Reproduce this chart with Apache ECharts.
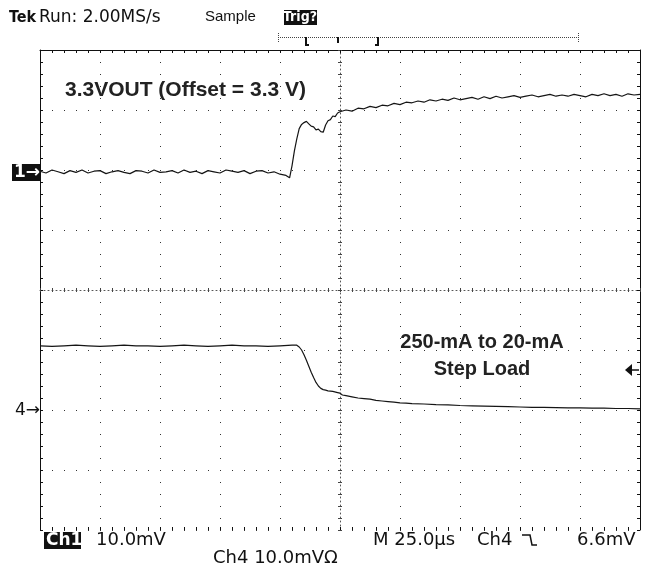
<!DOCTYPE html>
<html>
<head>
<meta charset="utf-8">
<script src="https://cdn.jsdelivr.net/npm/echarts@6.0.0/dist/echarts.min.js"></script>
<style>
  html, body { margin: 0; padding: 0; background: #fff; }
  #chart { width: 647px; height: 573px; }
</style>
</head>
<body>
<div id="chart"></div>
<script>
// Scope capture: 3.3VOUT (Ch1) and load-step sense (Ch4), 25 us/div, 10 mV/div.
// x in microseconds around the trigger, y in screen divisions (-4..4).

// channel ground markers, in divisions from screen centre
const ch1Pos = 1.97
const ch4Pos = -2

// Ch1: mV above its marker
const ch1Time = [
  -125, -122.5, -120, -117.5, -115, -112.5, -110, -107.5, -105, -102.5,
  -100, -97.5, -95, -92.5, -90, -87.5, -85, -82.5, -80, -77.5,
  -75, -72.5, -70, -67.5, -65, -62.5, -60, -57.5, -55, -52.5,
  -50, -47.5, -45, -42.5, -40, -37.5, -35, -32.5, -30, -27.5,
  -25, -22.5, -21, -20, -19, -18, -17, -16, -15, -14,
  -13, -12, -11, -10, -9, -8, -7, -6, -5, -4,
  -3, -2, -1, 0, 2.5, 5, 7.5, 10, 12.5, 15,
  17.5, 20, 22.5, 25, 27.5, 30, 32.5, 35, 37.5, 40,
  42.5, 45, 47.5, 50, 52.5, 55, 57.5, 60, 62.5, 65,
  67.5, 70, 72.5, 75, 77.5, 80, 82.5, 85, 87.5, 90,
  92.5, 95, 97.5, 100, 102.5, 105, 107.5, 110, 112.5, 115,
  117.5, 120, 122.5, 125
]
const ch1Mv = [
  0.1, -0.2, 0.3, 0, -0.3, 0.2, -0.1, 0.3, -0.2, 0.1,
  0.2, -0.3, 0, 0.2, -0.1, -0.3, 0.2, 0.1, -0.2, 0.3,
  -0.1, 0, 0.2, -0.2, 0.3, -0.1, 0.1, -0.3, 0.2, 0,
  -0.2, 0.3, 0.1, -0.1, 0.2, -0.3, 0.1, 0.2, -0.2, 0,
  -0.4, -0.6, -1.0, 1.0, 3.5, 5.5, 7.2, 7.9, 8.2, 8.4,
  8.0, 7.6, 7.5, 7.0, 7.1, 6.7, 6.6, 7.8, 8.5, 8.7,
  9.3, 9.2, 9.8, 10.0, 10.3, 10.1, 10.6, 10.5, 10.9, 10.7,
  11.1, 11.0, 11.4, 11.2, 11.6, 11.5, 11.8, 11.6, 12.0, 11.8,
  12.1, 11.9, 12.3, 12.0, 12.2, 12.4, 12.1, 12.5, 12.2, 12.6,
  12.3, 12.5, 12.7, 12.4, 12.6, 12.8, 12.5, 12.7, 12.9, 12.6,
  12.8, 12.6, 12.9, 12.7, 12.5, 12.9, 12.7, 13.0, 12.7, 12.9,
  12.6, 13.0, 12.8, 12.9
]

// Ch4: mV above its marker
const ch4Time = [
  -125, -120, -115, -110, -105, -100, -95, -90, -85, -80,
  -75, -70, -65, -60, -55, -50, -45, -40, -35, -30,
  -25, -20, -18, -17, -16, -15, -14, -13, -12, -11,
  -10, -9, -8, -7, -6, -5, -3, -1, 0, 1,
  2.5, 5, 7.5, 10, 12.5, 15, 17.5, 20, 22.5, 25,
  27.5, 30, 35, 40, 45, 50, 55, 60, 65, 70,
  75, 80, 85, 90, 95, 100, 105, 110, 115, 120,
  125
]
const ch4Mv = [
  10.7, 10.6, 10.7, 10.8, 10.7, 10.6, 10.7, 10.8, 10.7, 10.7,
  10.6, 10.7, 10.8, 10.7, 10.6, 10.7, 10.8, 10.7, 10.7, 10.6,
  10.7, 10.8, 10.8, 10.5, 10.0, 9.2, 8.3, 7.3, 6.3, 5.4,
  4.6, 4.0, 3.6, 3.4, 3.3, 3.2, 3.1, 2.9, 2.8, 2.5,
  2.4, 2.2, 2.0, 1.9, 1.8, 1.6, 1.5, 1.4, 1.3, 1.2,
  1.15, 1.05, 1.0, 0.9, 0.85, 0.75, 0.7, 0.65, 0.6, 0.55,
  0.5, 0.45, 0.45, 0.4, 0.35, 0.35, 0.3, 0.3, 0.25, 0.25,
  0.2
]

const ink = '#111'
const scopeFont = "'DejaVu Sans', sans-serif"
const narrowFont = "'Liberation Sans Narrow', 'DejaVu Sans Condensed', sans-serif"
const arial = "'Liberation Sans', Arial, sans-serif"

const ticks = (inside, len, color = ink) => ({
  axisTick: { show: true, inside, length: len, lineStyle: { color, width: 1 } },
  minorTick: { show: true, splitNumber: 5, length: len, lineStyle: { color, width: 1 } },
  axisLabel: { show: false },
})
const frameLine = { show: true, onZero: false, lineStyle: { color: ink, width: 1 } }
const centreLine = { show: true, onZero: true, lineStyle: { color: '#555', width: 1, type: [1, 3] } }
const grid = { show: false, lineStyle: { color: '#333', width: 1, type: [1, 11] } }

const xBase = { type: 'value', min: -125, max: 125, interval: 25 }
const yBase = { type: 'value', min: -4, max: 4, interval: 1 }

const text = (x, y, str, font, extra = {}) => ({
  type: 'text', x, y,
  style: { text: str, font, fill: ink, verticalAlign: 'middle', ...extra },
})

const chart = echarts.init(document.getElementById('chart'), null, { renderer: 'canvas' })
chart.setOption({
  animation: false,
  backgroundColor: '#fff',
  grid: { left: 40, right: 7, top: 50, bottom: 43 },
  xAxis: [
    { ...xBase, position: 'bottom', axisLine: { ...frameLine, show: false }, ...ticks(true, 3), splitLine: { ...grid, show: true } },
    { ...xBase, position: 'top', axisLine: frameLine, ...ticks(true, 3), splitLine: grid },
    { ...xBase, position: 'bottom', axisLine: centreLine, ...ticks(true, 2, '#444'), splitLine: grid },
    { ...xBase, position: 'bottom', axisLine: { show: false, onZero: true }, ...ticks(false, 2, '#444'), splitLine: grid },
  ],
  yAxis: [
    { ...yBase, position: 'left', axisLine: frameLine, ...ticks(true, 3), splitLine: { ...grid, show: true } },
    { ...yBase, position: 'right', axisLine: frameLine, ...ticks(true, 3), splitLine: grid },
    { ...yBase, position: 'left', axisLine: centreLine, ...ticks(true, 2, '#444'), splitLine: grid },
    { ...yBase, position: 'left', axisLine: { show: false, onZero: true }, ...ticks(false, 2, '#444'), splitLine: grid },
  ],
  series: [
    {
      type: 'line', xAxisIndex: 0, yAxisIndex: 0, showSymbol: false,
      lineStyle: { color: '#151515', width: 1.2 },
      data: ch1Time.map((t, i) => [t, ch1Pos + ch1Mv[i] / 10]),
    },
    {
      type: 'line', xAxisIndex: 0, yAxisIndex: 0, showSymbol: false,
      lineStyle: { color: '#151515', width: 1.2 },
      data: ch4Time.map((t, i) => [t, ch4Pos + ch4Mv[i] / 10]),
    },
  ],
  graphic: [
    // header
    text(9, 18, 'Tek', `bold 16px ${narrowFont}`),
    text(39, 18, 'Run: 2.00MS/s', `17px ${scopeFont}`),
    text(205, 17, 'Sample', `15px ${arial}`),
    { type: 'rect', shape: { x: 284, y: 10, width: 33, height: 15 }, style: { fill: '#111' } },
    text(300, 17.5, 'Trig?', `bold 14px ${narrowFont}`, { fill: '#fff', align: 'center' }),
    // record window bar
    { type: 'line', shape: { x1: 278, y1: 37.5, x2: 578, y2: 37.5 }, style: { stroke: '#444', lineWidth: 1, lineDash: [1, 1] } },
    { type: 'line', shape: { x1: 278.5, y1: 33, x2: 278.5, y2: 42 }, style: { stroke: '#444', lineWidth: 1, lineDash: [1, 1] } },
    { type: 'line', shape: { x1: 578.5, y1: 33, x2: 578.5, y2: 42 }, style: { stroke: '#444', lineWidth: 1, lineDash: [1, 1] } },
    { type: 'polyline', shape: { points: [[306, 37], [306, 45], [309, 45]] }, style: { stroke: ink, lineWidth: 2, fill: null } },
    { type: 'line', shape: { x1: 338, y1: 37, x2: 338, y2: 43 }, style: { stroke: ink, lineWidth: 2 } },
    { type: 'polyline', shape: { points: [[378, 37], [378, 45], [375, 45]] }, style: { stroke: ink, lineWidth: 2, fill: null } },
    // annotations
    text(65, 90, '3.3VOUT (Offset = 3.3 V)', `bold 21px ${arial}`, { fill: '#222' }),
    text(482, 342, '250-mA to 20-mA', `bold 20px ${arial}`, { fill: '#222', align: 'center' }),
    text(482, 369, 'Step Load', `bold 20px ${arial}`, { fill: '#222', align: 'center' }),
    // channel markers
    { type: 'rect', shape: { x: 12, y: 164, width: 28, height: 17 }, style: { fill: '#111' } },
    text(14, 173, '1→', `bold 17px ${scopeFont}`, { fill: '#fff' }),
    text(15, 411, '4→', `17px ${scopeFont}`),
    { type: 'polygon', shape: { points: [[625, 370], [632, 364], [632, 376]] }, style: { fill: ink } },
    { type: 'line', shape: { x1: 631, y1: 370, x2: 639, y2: 370 }, style: { stroke: ink, lineWidth: 1.5 } },
    // footer
    { type: 'rect', shape: { x: 44, y: 532, width: 37, height: 17 }, style: { fill: '#111' } },
    text(46, 541, 'Ch1', `bold 17px ${scopeFont}`, { fill: '#fff' }),
    text(96, 540, '10.0mV', `18px ${scopeFont}`),
    text(373, 540, 'M 25.0µs', `18px ${scopeFont}`),
    text(477, 540, 'Ch4', `18px ${scopeFont}`),
    { type: 'polyline', shape: { points: [[522, 535], [530, 535], [532, 545], [537, 545]] }, style: { stroke: ink, lineWidth: 1.5, fill: null } },
    text(577, 540, '6.6mV', `18px ${scopeFont}`),
    text(213, 558, 'Ch4 10.0mVΩ', `18px ${scopeFont}`),
  ],
})
addEventListener('resize', () => chart.resize())
</script>
</body>
</html>
